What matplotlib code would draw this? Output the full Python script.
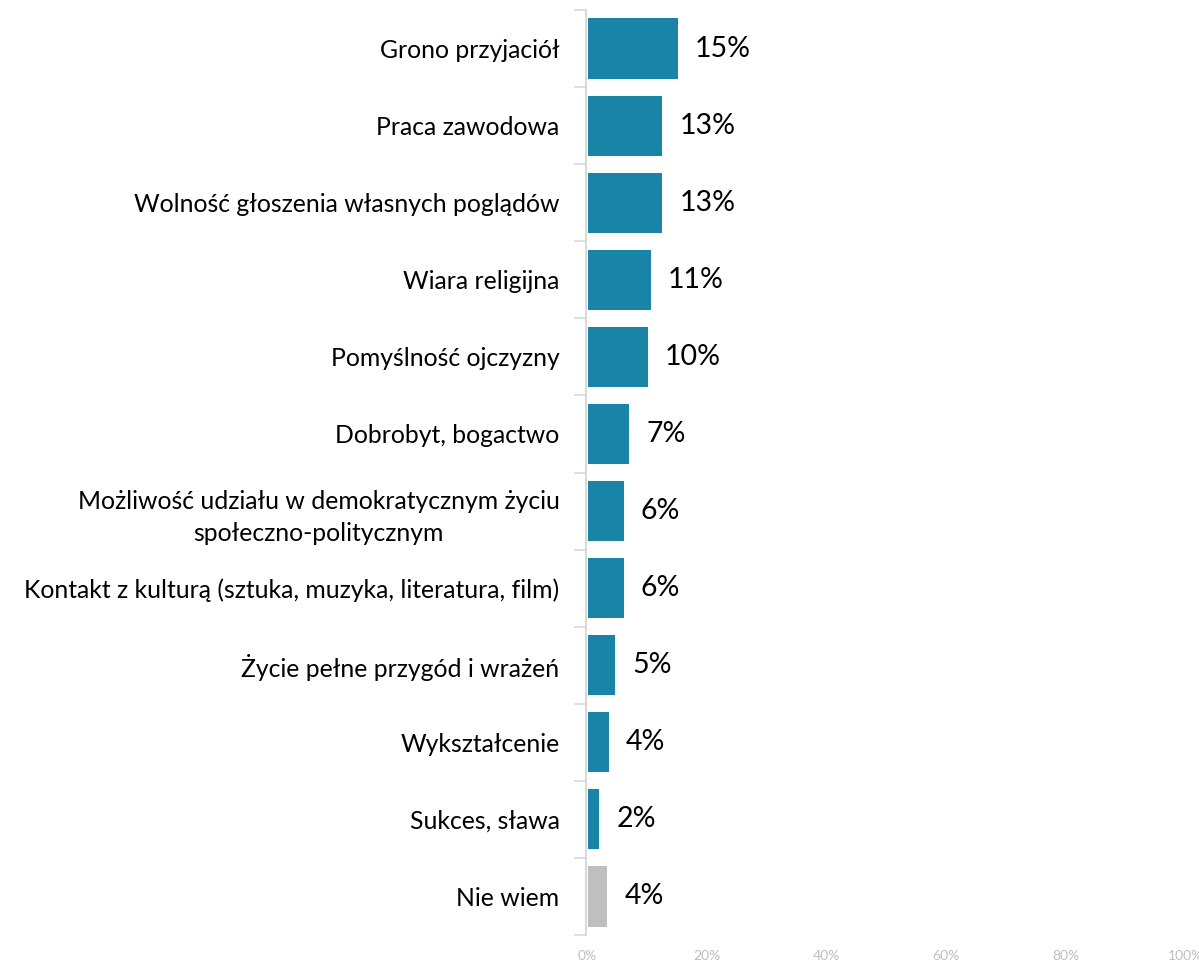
import matplotlib
matplotlib.use("Agg")
import matplotlib.pyplot as plt
import numpy as np

categories = [
    "Grono przyjaciół",
    "Praca zawodowa",
    "Wolność głoszenia własnych poglądów",
    "Wiara religijna",
    "Pomyślność ojczyzny",
    "Dobrobyt, bogactwo",
    "Możliwość udziału w demokratycznym życiu\nspołeczno-politycznym",
    "Kontakt z kulturą (sztuka, muzyka, literatura, film)",
    "Życie pełne przygód i wrażeń",
    "Wykształcenie",
    "Sukces, sława",
    "Nie wiem",
]
values = [15.0, 12.4, 12.4, 10.5, 10.0, 6.9, 6.0, 6.0, 4.5, 3.5, 1.9, 3.2]
value_labels = ["15%", "13%", "13%", "11%", "10%", "7%", "6%", "6%", "5%", "4%", "2%", "4%"]
xticks = [0, 20, 40, 60, 80, 100]
xtick_labels = ["0%", "20%", "40%", "60%", "80%", "100%"]

plt.rcParams['font.family'] = ['Lato', 'DejaVu Sans']

W, H = 1199, 963
fig = plt.figure(figsize=(W / 100, H / 100), dpi=100)
ax = fig.add_axes([586 / W, 1 - 935 / H, (1185 - 586) / W, (935 - 10) / H])

n = len(categories)
y = np.arange(n)
colors = ["#1a84a6"] * (n - 1) + ["#bfbfbf"]
ax.barh(y, values, height=0.78, color=colors, edgecolor="none", left=0.15)

for yi, v, lab in zip(y, values, value_labels):
    ax.text(v + 3.0, yi, lab, va="center", ha="left", fontsize=20.5, color="black")

ax.set_ylim(n - 0.5, -0.5)
ax.set_xlim(-0.2, 100)
ax.set_yticks(y)
ax.set_yticklabels(categories, fontsize=17.8, multialignment="center", linespacing=1.45)
ax.tick_params(axis="y", which="major", length=0, pad=19)
ax.set_yticks(np.arange(n + 1) - 0.5, minor=True)
ax.tick_params(axis="y", which="minor", length=9, width=1.2, color="#d9d9d9", direction="out")

ax.set_xticks(xticks)
ax.set_xticklabels(xtick_labels, fontsize=10, color="#bfbfbf")
ax.tick_params(axis="x", length=0, pad=11)

for s in ["top", "right", "bottom"]:
    ax.spines[s].set_visible(False)
ax.spines["left"].set_color("#d9d9d9")
ax.spines["left"].set_linewidth(1.5)

fig.savefig("out.png", dpi=100)
